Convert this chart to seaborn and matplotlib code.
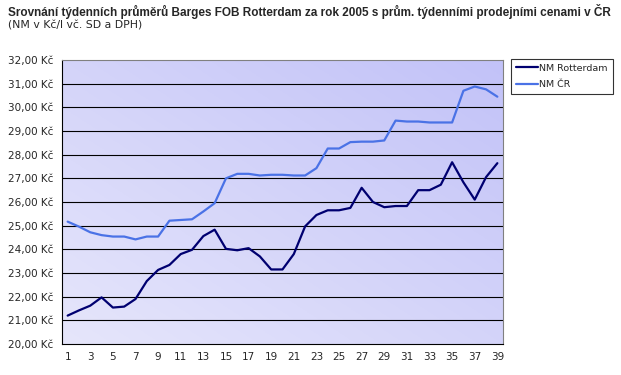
import numpy as np
import pandas as pd
import matplotlib
matplotlib.use("Agg")
import matplotlib.pyplot as plt
from matplotlib.ticker import FuncFormatter, FixedLocator
import seaborn as sns

# weekly averages 2005, Kč per litre
weeks = list(range(1, 40))
rotterdam = [21.20, 21.42, 21.62, 21.97, 21.54, 21.58, 21.90, 22.66, 23.13, 23.34,
             23.80, 23.98, 24.56, 24.83, 24.02, 23.96, 24.05, 23.70, 23.15, 23.15,
             23.80, 24.97, 25.45, 25.65, 25.65, 25.75, 26.60, 26.00, 25.78, 25.83,
             25.83, 26.50, 26.50, 26.73, 27.68, 26.83, 26.10, 27.05, 27.64]
cr = [25.17, 24.96, 24.72, 24.60, 24.54, 24.54, 24.42, 24.54, 24.54, 25.21,
      25.24, 25.27, 25.60, 25.95, 27.00, 27.19, 27.19, 27.12, 27.15, 27.15,
      27.12, 27.12, 27.43, 28.26, 28.26, 28.53, 28.55, 28.55, 28.60, 29.44,
      29.40, 29.40, 29.36, 29.36, 29.36, 30.70, 30.88, 30.76, 30.45]
series_names = ["NM Rotterdam", "NM ČR"]
yticks = np.arange(20, 33, 1)
xtick_labels = [str(w) for w in weeks if w % 2 == 1]

df = pd.DataFrame({
    "tyden": weeks * 2,
    "cena": rotterdam + cr,
    "rada": [series_names[0]] * len(weeks) + [series_names[1]] * len(weeks),
})

sns.set_style("white")
plt.rcParams["font.family"] = ["DejaVu Sans"]

colors = ["#000070", "#4a72e6"]

fig = plt.figure(figsize=(6.21, 3.75), dpi=100)
ax = fig.add_axes([62 / 621, 1 - 344 / 375, 441 / 621, 284 / 375])

# diagonal lavender gradient behind the plot
gx, gy = np.meshgrid(np.linspace(0, 1, 200), np.linspace(0, 1, 200))
t = (gx + gy) / 2  # 0 bottom-left, 1 top-right
light = np.array([230, 230, 251]) / 255
dark = np.array([194, 194, 248]) / 255
grad = light[None, None, :] * (1 - t[..., None]) + dark[None, None, :] * t[..., None]
ax.imshow(grad, extent=[0.5, 39.5, 20, 32], origin="lower", aspect="auto", zorder=0)

for v in yticks[1:-1]:
    ax.axhline(v, color="black", lw=0.8, zorder=1)

sns.lineplot(data=df, x="tyden", y="cena", hue="rada", ax=ax,
             palette=colors, linewidth=1.6, legend=False, zorder=3)

ax.set_xlim(0.5, 39.5)
ax.set_ylim(20, 32)
ax.set_yticks(yticks)
ax.yaxis.set_major_formatter(FuncFormatter(lambda v, p: f"{v:.2f}".replace(".", ",") + " Kč"))
ax.xaxis.set_major_locator(FixedLocator([w for w in weeks if w % 2 == 1]))
ax.set_xticklabels(xtick_labels)
ax.xaxis.set_minor_locator(FixedLocator(np.arange(0.5, 40, 1)))
ax.tick_params(axis="x", which="major", length=0, labelsize=7.5, pad=6)
ax.tick_params(axis="x", which="minor", length=4, width=0.8, color="black", direction="out")
ax.tick_params(axis="y", length=4, width=0.8, color="black", direction="out", labelsize=7.5, pad=2)
ax.set_xlabel("")
ax.set_ylabel("")

for side in ["top", "right"]:
    ax.spines[side].set_color("#808080")
    ax.spines[side].set_linewidth(0.8)
for side in ["left", "bottom"]:
    ax.spines[side].set_color("black")
    ax.spines[side].set_linewidth(0.8)

handles = [plt.Line2D([], [], color=c, lw=1.6) for c in colors]
leg = fig.legend(handles, series_names, loc="upper left",
                 bbox_to_anchor=(511 / 621, 1 - 59 / 375), fontsize=6.8,
                 frameon=True, fancybox=False, handlelength=2.4, handletextpad=0.1,
                 borderpad=0.5, labelspacing=0.8, borderaxespad=0)
leg.get_frame().set_edgecolor("black")
leg.get_frame().set_linewidth(0.8)

fig.text(8 / 621, 1 - 4 / 375,
         "Srovnání týdenních průměrů Barges FOB Rotterdam za rok 2005 s prům. týdenními prodejními cenami v ČR",
         fontsize=8.45, fontweight="bold", va="top", ha="left",
         family=["Liberation Sans", "DejaVu Sans"])
fig.text(8 / 621, 1 - 20 / 375, "(NM v Kč/l vč. SD a DPH)", fontsize=7.8, va="top", ha="left")

fig.savefig("out.png", dpi=100)
